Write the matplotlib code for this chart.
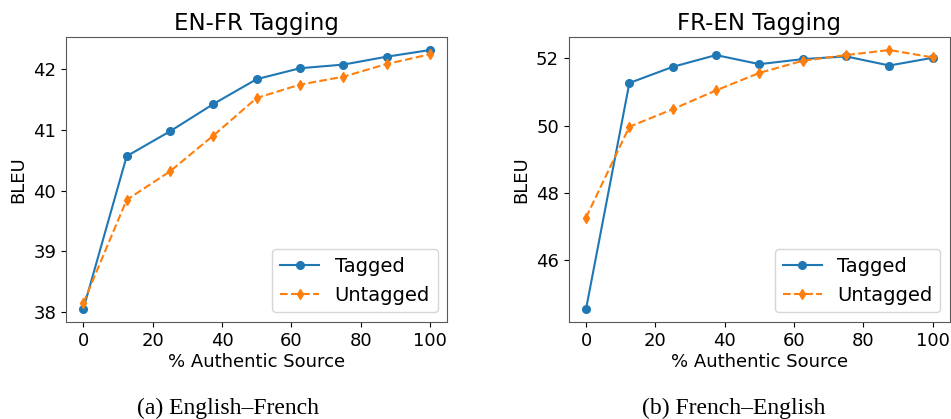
import matplotlib
matplotlib.use("Agg")
import matplotlib.pyplot as plt

pct = [0, 12.5, 25, 37.5, 50, 62.5, 75, 87.5, 100]

enfr_tagged = [38.05, 40.57, 40.98, 41.43, 41.84, 42.02, 42.08, 42.21, 42.32]
enfr_untagged = [38.15, 39.85, 40.32, 40.91, 41.53, 41.75, 41.88, 42.09, 42.25]

fren_tagged = [44.55, 51.27, 51.75, 52.10, 51.83, 51.98, 52.06, 51.79, 52.02]
fren_untagged = [47.27, 49.97, 50.49, 51.05, 51.57, 51.93, 52.10, 52.25, 52.03]

panels = [
    ("EN-FR Tagging", enfr_tagged, enfr_untagged, "(a) English\u2013French", [38, 39, 40, 41, 42]),
    ("FR-EN Tagging", fren_tagged, fren_untagged, "(b) French\u2013English", [46, 48, 50, 52]),
]

fig = plt.figure(figsize=(9.51, 4.19), dpi=100)
lefts = [0.0694, 0.598]
caption_x = [0.240, 0.771]

for left, cx, (title, tagged, untagged, caption, yt) in zip(lefts, caption_x, panels):
    ax = fig.add_axes([left, 0.2315, 0.401, 0.680])
    ax.plot(pct, tagged, "-o", color="#1f77b4", markersize=5.5, linewidth=1.5, label="Tagged")
    ax.plot(pct, untagged, "--d", color="#ff7f0e", markersize=5.5, linewidth=1.5, label="Untagged")
    ax.set_title(title, fontsize=16.5, pad=5)
    ax.set_xlabel("% Authentic Source", fontsize=13, labelpad=2)
    ax.set_ylabel("BLEU", fontsize=13)
    ax.set_yticks(yt)
    ax.set_xticks([0, 20, 40, 60, 80, 100])
    ax.tick_params(labelsize=13)
    for s in ax.spines.values():
        s.set_color("0.35")
    ax.legend(loc="lower right", fontsize=14)
    # subfigure caption under each panel
    fig.text(cx, 0.012, caption, ha="center", va="baseline",
             fontsize=17, family="Liberation Serif")

fig.savefig("out.png", dpi=100)
